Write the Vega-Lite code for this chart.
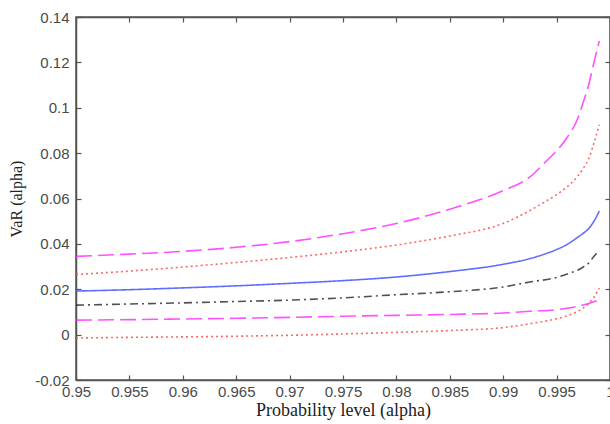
{
  "$schema": "https://vega.github.io/schema/vega-lite/v6.json",
  "autosize": {"type": "none"},
  "width": 534,
  "height": 363,
  "padding": {"left": 76, "top": 17, "right": 0, "bottom": 44},
  "background": "white",
  "config": {
    "view": {"stroke": "#555", "strokeWidth": 1.5},
    "axis": {"grid": false, "domainColor": "#555", "domainWidth": 1.5, "tickColor": "#555", "tickWidth": 1.2,
      "labelFont": "Liberation Sans", "labelFontSize": 15, "labelColor": "#4a4a4a",
      "titleFont": "Liberation Serif", "titleFontWeight": "normal", "titleColor": "#222"}
  },
  "datasets": {
    "var": [
      {"alpha": 0.95, "s": "MU", "v": 0.0345}, {"alpha": 0.955, "s": "MU", "v": 0.0355}, {"alpha": 0.96, "s": "MU", "v": 0.0367}, {"alpha": 0.965, "s": "MU", "v": 0.0385}, {"alpha": 0.97, "s": "MU", "v": 0.041}, {"alpha": 0.975, "s": "MU", "v": 0.0445}, {"alpha": 0.98, "s": "MU", "v": 0.049}, {"alpha": 0.985, "s": "MU", "v": 0.0553}, {"alpha": 0.99, "s": "MU", "v": 0.0635}, {"alpha": 0.9925, "s": "MU", "v": 0.0695}, {"alpha": 0.994, "s": "MU", "v": 0.0763}, {"alpha": 0.995, "s": "MU", "v": 0.081}, {"alpha": 0.996, "s": "MU", "v": 0.087}, {"alpha": 0.997, "s": "MU", "v": 0.0955}, {"alpha": 0.9975, "s": "MU", "v": 0.1025}, {"alpha": 0.998, "s": "MU", "v": 0.110}, {"alpha": 0.9985, "s": "MU", "v": 0.120}, {"alpha": 0.999, "s": "MU", "v": 0.1295},
      {"alpha": 0.95, "s": "RU", "v": 0.0265}, {"alpha": 0.955, "s": "RU", "v": 0.028}, {"alpha": 0.96, "s": "RU", "v": 0.0298}, {"alpha": 0.965, "s": "RU", "v": 0.0318}, {"alpha": 0.97, "s": "RU", "v": 0.034}, {"alpha": 0.975, "s": "RU", "v": 0.0365}, {"alpha": 0.98, "s": "RU", "v": 0.0395}, {"alpha": 0.985, "s": "RU", "v": 0.0435}, {"alpha": 0.99, "s": "RU", "v": 0.049}, {"alpha": 0.9925, "s": "RU", "v": 0.0547}, {"alpha": 0.994, "s": "RU", "v": 0.0588}, {"alpha": 0.995, "s": "RU", "v": 0.0617}, {"alpha": 0.996, "s": "RU", "v": 0.0652}, {"alpha": 0.997, "s": "RU", "v": 0.070}, {"alpha": 0.9975, "s": "RU", "v": 0.0733}, {"alpha": 0.998, "s": "RU", "v": 0.0775}, {"alpha": 0.9985, "s": "RU", "v": 0.0845}, {"alpha": 0.999, "s": "RU", "v": 0.0925},
      {"alpha": 0.95, "s": "B", "v": 0.0192}, {"alpha": 0.955, "s": "B", "v": 0.0198}, {"alpha": 0.96, "s": "B", "v": 0.0206}, {"alpha": 0.965, "s": "B", "v": 0.0215}, {"alpha": 0.97, "s": "B", "v": 0.0226}, {"alpha": 0.975, "s": "B", "v": 0.0238}, {"alpha": 0.98, "s": "B", "v": 0.0254}, {"alpha": 0.985, "s": "B", "v": 0.0278}, {"alpha": 0.99, "s": "B", "v": 0.031}, {"alpha": 0.9925, "s": "B", "v": 0.0335}, {"alpha": 0.994, "s": "B", "v": 0.0357}, {"alpha": 0.995, "s": "B", "v": 0.0375}, {"alpha": 0.996, "s": "B", "v": 0.0398}, {"alpha": 0.997, "s": "B", "v": 0.043}, {"alpha": 0.9975, "s": "B", "v": 0.0447}, {"alpha": 0.998, "s": "B", "v": 0.0467}, {"alpha": 0.9985, "s": "B", "v": 0.050}, {"alpha": 0.999, "s": "B", "v": 0.0545},
      {"alpha": 0.95, "s": "K", "v": 0.013}, {"alpha": 0.955, "s": "K", "v": 0.0135}, {"alpha": 0.96, "s": "K", "v": 0.014}, {"alpha": 0.965, "s": "K", "v": 0.0146}, {"alpha": 0.97, "s": "K", "v": 0.0152}, {"alpha": 0.975, "s": "K", "v": 0.0162}, {"alpha": 0.98, "s": "K", "v": 0.0176}, {"alpha": 0.985, "s": "K", "v": 0.0189}, {"alpha": 0.99, "s": "K", "v": 0.021}, {"alpha": 0.9925, "s": "K", "v": 0.0232}, {"alpha": 0.995, "s": "K", "v": 0.0252}, {"alpha": 0.996, "s": "K", "v": 0.0267}, {"alpha": 0.997, "s": "K", "v": 0.0285}, {"alpha": 0.9975, "s": "K", "v": 0.0298}, {"alpha": 0.998, "s": "K", "v": 0.0315}, {"alpha": 0.9985, "s": "K", "v": 0.0345}, {"alpha": 0.999, "s": "K", "v": 0.0372},
      {"alpha": 0.95, "s": "ML", "v": 0.0064}, {"alpha": 0.955, "s": "ML", "v": 0.0066}, {"alpha": 0.96, "s": "ML", "v": 0.0069}, {"alpha": 0.965, "s": "ML", "v": 0.0072}, {"alpha": 0.97, "s": "ML", "v": 0.0076}, {"alpha": 0.975, "s": "ML", "v": 0.0081}, {"alpha": 0.98, "s": "ML", "v": 0.0085}, {"alpha": 0.985, "s": "ML", "v": 0.0089}, {"alpha": 0.99, "s": "ML", "v": 0.0095}, {"alpha": 0.9925, "s": "ML", "v": 0.0103}, {"alpha": 0.995, "s": "ML", "v": 0.011}, {"alpha": 0.996, "s": "ML", "v": 0.0116}, {"alpha": 0.997, "s": "ML", "v": 0.0125}, {"alpha": 0.9975, "s": "ML", "v": 0.0131}, {"alpha": 0.998, "s": "ML", "v": 0.0137}, {"alpha": 0.9985, "s": "ML", "v": 0.0145}, {"alpha": 0.999, "s": "ML", "v": 0.0153},
      {"alpha": 0.95, "s": "RL", "v": -0.0015}, {"alpha": 0.955, "s": "RL", "v": -0.0012}, {"alpha": 0.96, "s": "RL", "v": -0.001}, {"alpha": 0.965, "s": "RL", "v": -0.0007}, {"alpha": 0.97, "s": "RL", "v": -0.0003}, {"alpha": 0.975, "s": "RL", "v": 0.0003}, {"alpha": 0.98, "s": "RL", "v": 0.001}, {"alpha": 0.985, "s": "RL", "v": 0.0018}, {"alpha": 0.99, "s": "RL", "v": 0.0031}, {"alpha": 0.9925, "s": "RL", "v": 0.0048}, {"alpha": 0.995, "s": "RL", "v": 0.007}, {"alpha": 0.996, "s": "RL", "v": 0.0083}, {"alpha": 0.997, "s": "RL", "v": 0.0103}, {"alpha": 0.9975, "s": "RL", "v": 0.0118}, {"alpha": 0.998, "s": "RL", "v": 0.0137}, {"alpha": 0.9985, "s": "RL", "v": 0.0165}, {"alpha": 0.999, "s": "RL", "v": 0.0205}
    ]
  },
  "data": {"name": "var"},
  "layer": [
    {
      "mark": {"type": "line", "strokeWidth": 1.6, "opacity": 0.85, "interpolate": "monotone"},
      "encoding": {
        "x": {"field": "alpha", "type": "quantitative",
          "scale": {"domain": [0.95, 1.0], "nice": false, "zero": false},
          "axis": {"orient": "bottom", "values": [0.95, 0.955, 0.96, 0.965, 0.97, 0.975, 0.98, 0.985, 0.99, 0.995, 1.0],
            "labelExpr": "format(datum.value, '~g')", "labelOverlap": false, "labelBound": false, "labelFlush": false,
            "tickSize": -5, "labelPadding": 9, "title": "Probability level (alpha)", "titleFontSize": 18, "titlePadding": 2}},
        "y": {"field": "v", "type": "quantitative",
          "scale": {"domain": [-0.02, 0.14], "nice": false, "zero": false},
          "axis": {"orient": "left", "values": [-0.02, 0, 0.02, 0.04, 0.06, 0.08, 0.1, 0.12, 0.14],
            "labelExpr": "datum.value < 0 ? '-' + format(-datum.value, '~g') : format(datum.value, '~g')",
            "tickSize": -5, "labelPadding": 12, "title": "VaR (alpha)", "titleFontSize": 16, "titlePadding": 10}},
        "detail": {"field": "s", "type": "nominal"},
        "color": {"field": "s", "type": "nominal", "legend": null,
          "scale": {"domain": ["MU", "RU", "B", "K", "ML", "RL"], "range": ["#ff33ff", "#ff4d4d", "#4455ff", "#333333", "#ff33ff", "#ff4d4d"]}},
        "strokeDash": {"field": "s", "type": "nominal", "legend": null,
          "scale": {"domain": ["MU", "RU", "B", "K", "ML", "RL"], "range": [[16, 6], [2, 3], [1, 0], [8, 4, 2, 4], [16, 6], [2, 3]]}}
      }
    },
    {
      "mark": {"type": "line", "opacity": 0},
      "encoding": {
        "x": {"field": "alpha", "type": "quantitative",
          "scale": {"domain": [0.95, 1.0], "nice": false, "zero": false},
          "axis": {"orient": "top", "values": [0.95, 0.955, 0.96, 0.965, 0.97, 0.975, 0.98, 0.985, 0.99, 0.995, 1.0],
            "labels": false, "tickSize": -5, "title": null, "domain": true}},
        "y": {"field": "v", "type": "quantitative",
          "scale": {"domain": [-0.02, 0.14], "nice": false, "zero": false},
          "axis": {"orient": "right", "values": [-0.02, 0, 0.02, 0.04, 0.06, 0.08, 0.1, 0.12, 0.14],
            "labels": false, "tickSize": -5, "title": null}},
        "detail": {"field": "s", "type": "nominal"}
      }
    }
  ],
  "resolve": {"axis": {"x": "independent", "y": "independent"}}
}
